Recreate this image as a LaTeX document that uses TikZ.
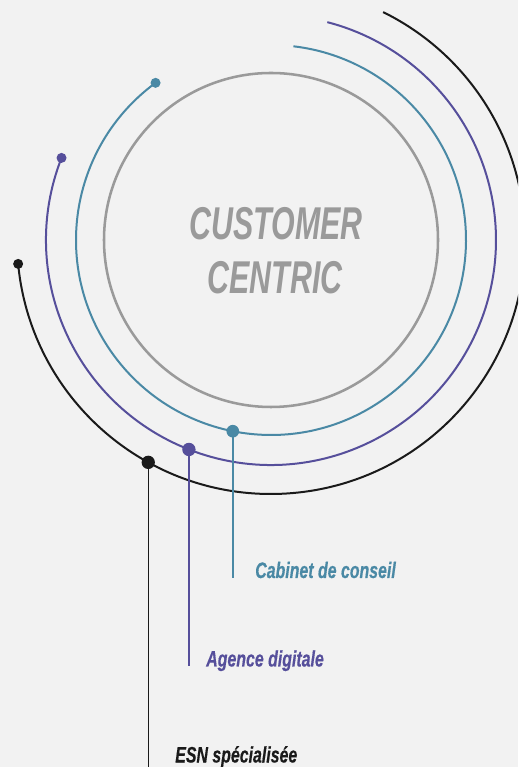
\documentclass[tikz,border=0pt]{standalone}
\usepackage{fontspec}
\newfontface\titlefont[FakeStretch=0.66]{Liberation Sans Bold Italic}
\newfontface\labelfont[FakeStretch=0.71,FakeBold=0.4]{Liberation Sans Bold Italic}
\definecolor{bgcol}{HTML}{F2F2F2}
\definecolor{ringgray}{HTML}{9A9A9A}
\definecolor{teal1}{HTML}{4A89A5}
\definecolor{purple1}{HTML}{564F9B}
\definecolor{ink}{HTML}{1A1A1A}
\tikzset{
  ring/.style={line width=1.9pt, draw=ringgray},
  orbit/.style={line width=1.5pt},
  stem/.style={line width=1.1pt},
  enddot/.style={circle, inner sep=0pt, minimum size=7.5pt},
  hubdot/.style={circle, inner sep=0pt, minimum size=10pt},
  title/.style={font=\titlefont\fontsize{34.5}{40}\selectfont, text=ringgray, anchor=base},
  tag/.style={font=\labelfont\fontsize{16.8}{19}\selectfont, anchor=base west, inner sep=0pt},
}
\begin{document}
\begin{tikzpicture}[x=0.75pt,y=0.75pt]
\fill[bgcol] (0,0) rectangle (518,767);
\useasboundingbox (0,0) rectangle (518,767);
\clip (0,0) rectangle (518,767);
\coordinate (c) at (271,527);
\coordinate (floor) at (0,-5);

% central ring
\draw[ring] (c) circle[radius=167];

% orbits
\draw[orbit, teal1] ([shift={(126.3:195)}]c) arc[start angle=126.3, end angle=443.4, radius=195];
\draw[orbit, purple1] ([shift={(158.6:225)}]c) arc[start angle=158.6, end angle=435.5, radius=225];
\draw[orbit, ink] ([shift={(185.4:254)}]c) arc[start angle=185.4, end angle=423.8, radius=254];

% orbit end dots
\node[enddot, fill=teal1] (t1) at ([shift={(126.3:195)}]c) {};
\node[enddot, fill=purple1] (p1) at ([shift={(158.6:225)}]c) {};
\node[enddot, fill=ink] (b1) at ([shift={(185.4:254)}]c) {};

% anchor dots on the orbits
\node[hubdot, fill=teal1, minimum size=9.5pt] (t2) at ([shift={(258.7:195)}]c) {};
\node[hubdot, fill=purple1] (p2) at ([shift={(248.6:225)}]c) {};
\node[hubdot, fill=ink] (b2) at ([shift={(241.1:254)}]c) {};

% title
\node[title] (tA) at (276,527) {CUSTOMER};
\node[title] (tB) at (275,473) {CENTRIC};

% labels
\node[tag, text=teal1] (tlab) at (255,189) {Cabinet de conseil};
\node[tag, text=purple1] (plab) at (206,100.5) {Agence digitale};
\node[tag, text=ink] (blab) at (175,4.5) {ESN spécialisée};

% stems
\draw[stem, teal1] (t2.center) -- (t2.center |- tlab.base);
\draw[stem, purple1] (p2.center) -- (p2.center |- plab.base);
\draw[stem, ink] (b2.center) -- (b2.center |- floor);
\end{tikzpicture}
\end{document}
